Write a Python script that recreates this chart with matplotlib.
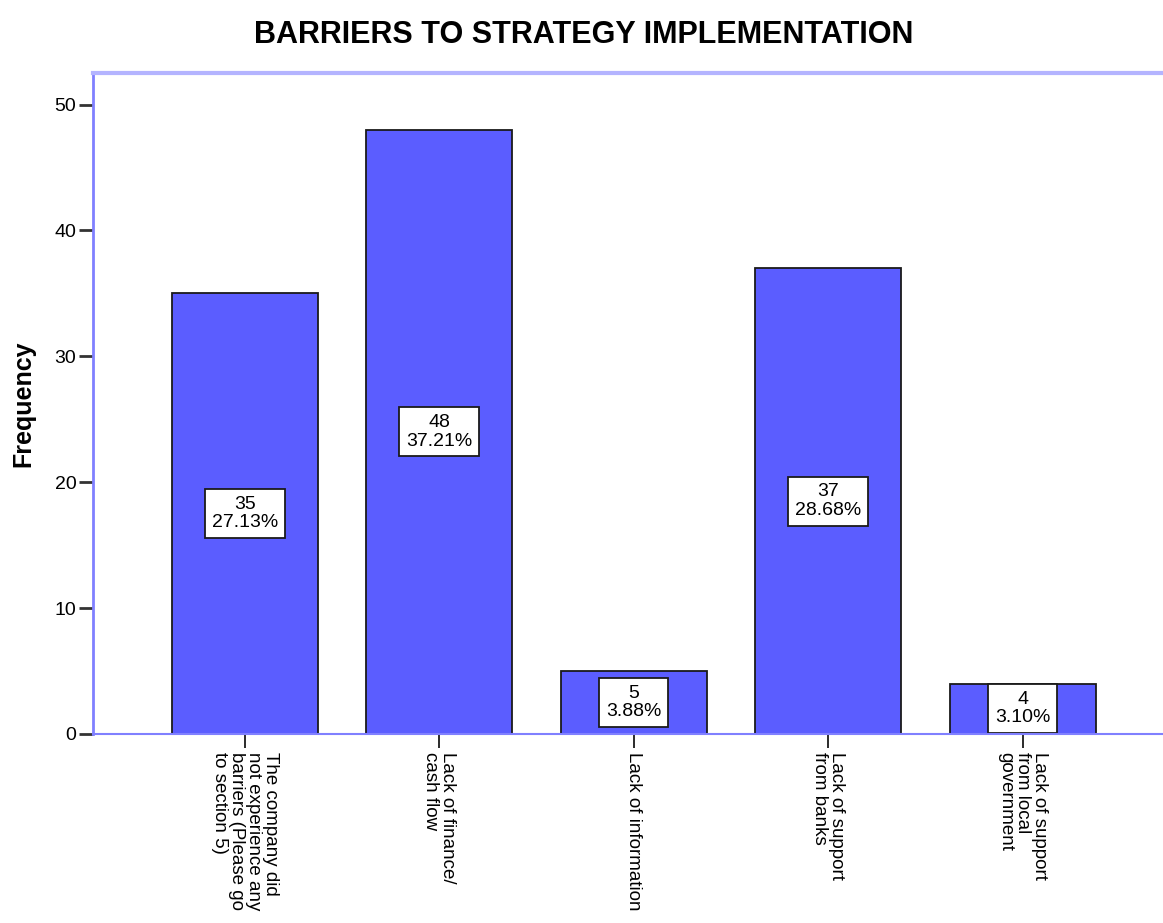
import matplotlib
matplotlib.use("Agg")
from matplotlib import pyplot as plt

categories = [
    "The company did\nnot experience any\nbarriers (Please go\nto section 5)",
    "Lack of finance/\ncash flow",
    "Lack of information",
    "Lack of support\nfrom banks",
    "Lack of support\nfrom local\ngovernment",
]
counts = [35, 48, 5, 37, 4]
yticks = [0, 10, 20, 30, 40, 50]

plt.rcParams['font.family'] = ['Liberation Sans', 'DejaVu Sans']

total = sum(counts)
pcts = [c * 100.0 / total for c in counts]

fig = plt.figure(figsize=(11.63, 9.23), dpi=100)
ax = fig.add_axes([0.080, 0.2048, 0.930, 0.716])

x = list(range(len(counts)))
ax.bar(x, counts, width=0.75, color='#5b5dff', edgecolor='#1a1a1a', linewidth=1.3, zorder=2)

# count and share of total in a white box at mid-height of each bar
for xi, c, p in zip(x, counts, pcts):
    ax.text(xi, c / 2.0, '%d\n%.2f%%' % (c, p), ha='center', va='center',
            fontsize=14, linespacing=1.1, zorder=3,
            bbox=dict(boxstyle='square,pad=0.35', facecolor='white', edgecolor='#1a1a1a', linewidth=1.3))

ax.set_xlim(-0.78, 4.78)
ax.set_ylim(0, 52.5)
ax.set_yticks(yticks)
ax.set_xticks(x)
ax.set_xticklabels(categories, rotation=270, ha='center', va='top',
                   multialignment='left', linespacing=1.0, fontsize=13.5)
ax.tick_params(axis='y', length=10, width=2, color='#333333', labelsize=14, pad=2)
ax.tick_params(axis='x', length=10, width=1.3, color='#1a1a1a', pad=3)

ax.spines['right'].set_visible(False)
ax.spines['left'].set_color('#8080ff')
ax.spines['left'].set_linewidth(2)
ax.spines['top'].set_color('#b4b4ff')
ax.spines['top'].set_linewidth(3)
ax.spines['bottom'].set_color('#8080ff')
ax.spines['bottom'].set_linewidth(1.5)
ax.spines['bottom'].set_zorder(5)

ax.set_ylabel('Frequency', fontsize=18, fontweight='bold', labelpad=14)
fig.text(0.502, 0.962, 'BARRIERS TO STRATEGY IMPLEMENTATION', ha='center', va='center',
         fontsize=22, fontweight='bold')

fig.savefig('out.png', dpi=100)
